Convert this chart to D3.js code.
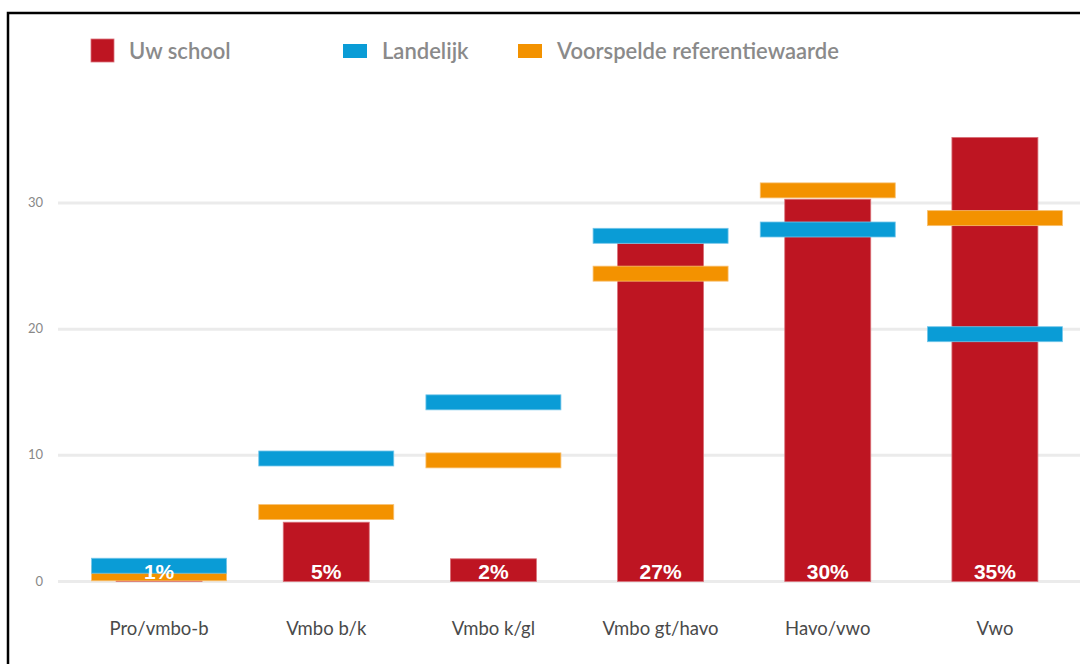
<!DOCTYPE html>
<html>
<head>
<meta charset="utf-8">
<script src="https://cdn.jsdelivr.net/npm/d3@7"></script>
<style>
  body { margin: 0; background: #fff; }
  svg { display: block; }
</style>
</head>
<body>
<div id="chart"></div>
<script>
// data
var categories = ['Pro/vmbo-b', 'Vmbo b/k', 'Vmbo k/gl', 'Vmbo gt/havo', 'Havo/vwo', 'Vwo']
var school = [0.15, 4.7, 1.8, 26.8, 30.3, 35.2]
var schoolLabels = ['1%', '5%', '2%', '27%', '30%', '35%']
var landelijk = [1.25, 9.75, 14.2, 27.4, 27.9, 19.6]
var voorspeld = [0.65, 5.5, 9.6, 24.4, 31.0, 28.8]
var yTicks = [0, 10, 20, 30]
var seriesNames = ['Uw school', 'Landelijk', 'Voorspelde referentiewaarde']
var colors = ['#be1522', '#0a9cd6', '#f39200']

var width = 1080, height = 664
var svg = d3.select('#chart').append('svg').attr('width', width).attr('height', height)

// frame (only top and left edges are visible in the crop)
svg.append('rect').attr('x', 8).attr('y', 13).attr('width', 1200).attr('height', 800)
    .attr('fill', 'none').attr('stroke', '#000').attr('stroke-width', 2.5)

var x = d3.scaleBand().domain(categories).range([75.5, 1078.5])
var y = d3.scaleLinear().domain([0, 30]).range([581.5, 203])

// gridlines + y labels
var grid = svg.append('g')
grid.selectAll('line').data(yTicks).enter().append('line')
    .attr('x1', 58).attr('x2', width)
    .attr('y1', function(d){ return y(d) }).attr('y2', function(d){ return y(d) })
    .attr('stroke', '#ebebeb').attr('stroke-width', 3)
grid.selectAll('text').data(yTicks).enter().append('text')
    .attr('x', 43).attr('y', function(d){ return y(d) + 4 })
    .attr('text-anchor', 'end')
    .attr('font-family', 'Lato, sans-serif').attr('font-size', 13).attr('fill', '#888')
    .text(function(d){ return d })

// x axis labels
svg.append('g').selectAll('text').data(categories).enter().append('text')
    .attr('x', function(d){ return x(d) + x.bandwidth() / 2 })
    .attr('y', 635)
    .attr('text-anchor', 'middle')
    .attr('font-family', 'Lato, sans-serif').attr('font-size', 18.5).attr('fill', '#4a4a4a')
    .text(function(d){ return d })

// red bars
var barW = 86
svg.append('g').selectAll('rect').data(school).enter().append('rect')
    .attr('x', function(d, i){ return x(categories[i]) + x.bandwidth() / 2 - barW / 2 })
    .attr('y', function(d){ return y(d) })
    .attr('width', barW)
    .attr('height', function(d){ return y(0) - y(d) })
    .attr('fill', colors[0]).attr('stroke', '#d9727a').attr('stroke-width', 0.8)

// reference markers
var markW = 135, markH = 15
function drawMarkers(values, color, stroke){
    svg.append('g').selectAll('rect').data(values).enter().append('rect')
        .attr('x', function(d, i){ return x(categories[i]) + x.bandwidth() / 2 - markW / 2 })
        .attr('y', function(d){ return y(d) - markH / 2 })
        .attr('width', markW).attr('height', markH)
        .attr('fill', color).attr('stroke', stroke).attr('stroke-width', 0.8)
}
drawMarkers(voorspeld, colors[2], '#f8c070')
drawMarkers(landelijk, colors[1], '#74c6ea')

// value labels
svg.append('g').selectAll('text').data(schoolLabels).enter().append('text')
    .attr('x', function(d, i){ return x(categories[i]) + x.bandwidth() / 2 })
    .attr('y', 578.5)
    .attr('text-anchor', 'middle')
    .attr('font-family', '"Liberation Sans", Arial, sans-serif').attr('font-weight', 'bold')
    .attr('font-size', 21).attr('fill', '#fff')
    .text(function(d){ return d })

// legend
var legendX = [91, 343, 518]
var lg = svg.append('g')
seriesNames.forEach(function(name, i){
    var g = lg.append('g')
    if (i === 0){
        g.append('rect').attr('x', legendX[i]).attr('y', 39).attr('width', 23).attr('height', 23)
            .attr('fill', colors[i]).attr('stroke', '#d9727a').attr('stroke-width', 0.8)
    } else {
        g.append('rect').attr('x', legendX[i]).attr('y', 44).attr('width', 24).attr('height', 14)
            .attr('fill', colors[i])
    }
    g.append('text').attr('x', legendX[i] + (i === 0 ? 38 : 39)).attr('y', 59)
        .attr('font-family', 'Lato, sans-serif').attr('font-size', 22).attr('font-weight', 600)
        .attr('fill', '#8a8a8a')
        .text(name)
})
</script>
</body>
</html>
